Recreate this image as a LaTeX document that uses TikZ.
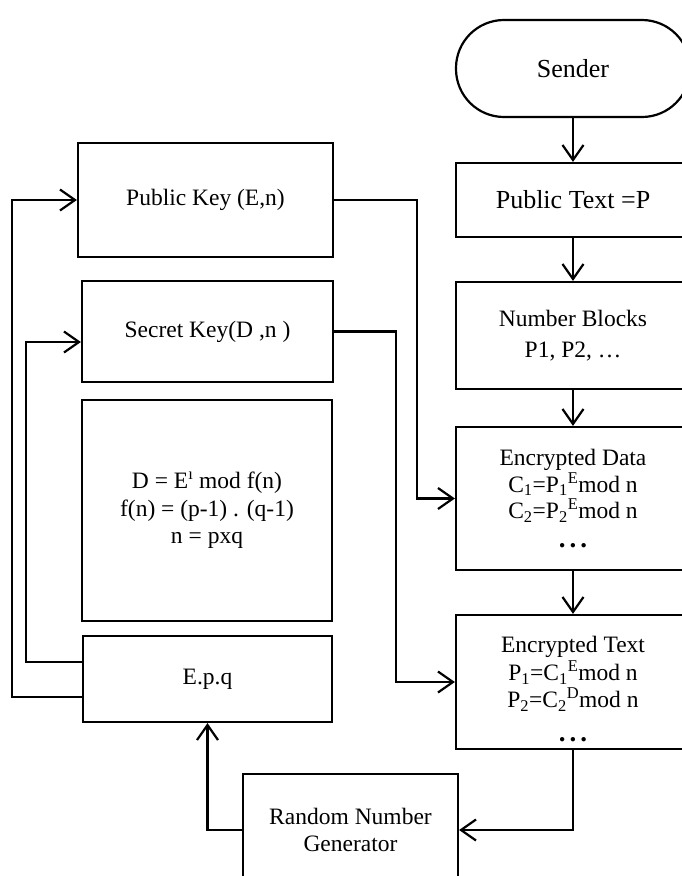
\documentclass[tikz,border=0pt]{standalone}
\usepackage{fontspec}
\setmainfont{Liberation Serif}
\usetikzlibrary{arrows.meta}
\newcommand{\bigdots}{{\fontsize{27}{27}\bfseries .\hspace{4pt}.\hspace{4pt}.}}
\begin{document}
\begin{tikzpicture}[x=1pt,y=-1pt,
  box/.style={draw,line width=2.2pt,inner sep=0pt,align=center,font=\fontsize{23.5}{26.5}\selectfont},
  txt/.style={inner sep=0pt,align=center,font=\fontsize{23.5}{26.5}\selectfont},
  big/.style={font=\fontsize{26}{29}\selectfont},
  arr/.style={line width=2.2pt,-{Straight Barb[length=15pt,width=21pt,line width=2.2pt]}}]
\useasboundingbox (0,0) rectangle (681,876);
\fill[white] (0,0) rectangle (681,876);

% right column
\node[box,big,rounded corners=48pt,minimum width=234pt,minimum height=97pt] (sender) at (573,68.5) {Sender};
\node[box,big,minimum width=234pt,minimum height=74pt] (pt) at (573,200) {Public Text =P};
\node[box,minimum width=234pt,minimum height=107pt] (nb) at (573,335.5) {Number Blocks\\[5pt]P1, P2, \dots};
\node[box,minimum width=234pt,minimum height=143pt] (ed) at (573,498.5)
  {Encrypted Data\\C\textsubscript{1}=P\textsubscript{1}\textsuperscript{E}mod n\\C\textsubscript{2}=P\textsubscript{2}\textsuperscript{E}mod n\\[2pt]\bigdots};
\node[box,minimum width=234pt,minimum height=134pt] (et) at (573,682) {};
\node[txt] (ettext) at (573,689)
  {Encrypted Text\\[1.5pt]P\textsubscript{1}=C\textsubscript{1}\textsuperscript{E}mod n\\[0.5pt]P\textsubscript{2}=C\textsubscript{2}\textsuperscript{D}mod n\\[7pt]\bigdots};

% left column
\node[box,minimum width=255pt,minimum height=114pt] (pk) at (205.5,200) {Public Key (E,n)};
\node[box,minimum width=251pt,minimum height=101pt] (sk) at (207.5,331.5) {Secret Key(D ,n )};
\node[box,minimum width=250pt,minimum height=221pt] (fm) at (207,510.5)
  {D = E\textsuperscript{ı} mod f(n)\\[1pt]f(n) = (p-1) . (q-1)\\[1pt]n = pxq};
\node[box,minimum width=249pt,minimum height=86pt] (epq) at (207.5,679) {E.p.q};
\node[box,minimum width=215pt,minimum height=112pt] (rng) at (350.5,830) {Random Number\\Generator};

% connectors
\draw[arr] (sender) -- (pt);
\draw[arr] (pt) -- (nb);
\draw[arr] (nb) -- (ed);
\draw[arr] (ed) -- (et);
\draw[arr] (pk.east) -- ++(83,0) |- (ed.west);
\draw[arr] (sk.east) -- ++(62,0) |- (et.west);
\draw[arr] (et.south) |- (rng.east);
\draw[arr] (rng.west) -| (epq.south);
\draw[arr] ([yshift=-18pt]epq.west) -- ++(-70,0) |- (pk.west);
\draw[arr] ([yshift=17pt]epq.west) -- ++(-56,0) |- ([yshift=-10.5pt]sk.west);
\end{tikzpicture}
\end{document}
